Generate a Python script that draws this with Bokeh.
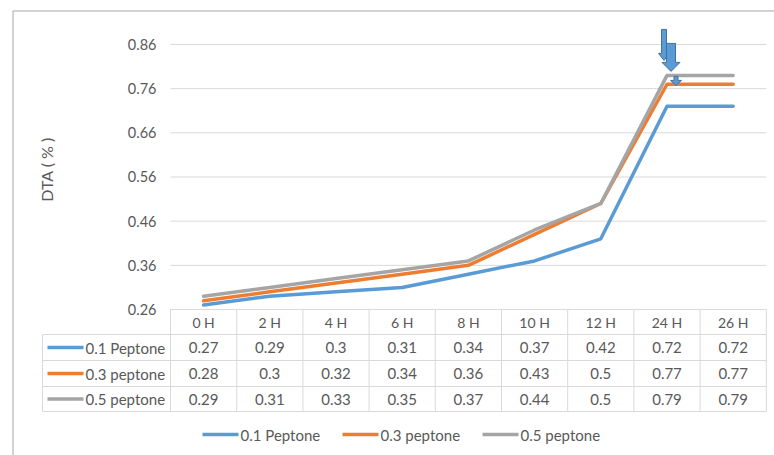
import numpy as np
from bokeh.plotting import figure
from bokeh.models import Range1d
from bokeh.core.properties import value
from bokeh.embed import file_html
from bokeh.resources import INLINE

# ---------------- data ----------------
categories = ["0 H", "2 H", "4 H", "6 H", "8 H", "10 H", "12 H", "24 H", "26 H"]
pep_01 = [0.27, 0.29, 0.30, 0.31, 0.34, 0.37, 0.42, 0.72, 0.72]
pep_03 = [0.28, 0.30, 0.32, 0.34, 0.36, 0.43, 0.50, 0.77, 0.77]
pep_05 = [0.29, 0.31, 0.33, 0.35, 0.37, 0.44, 0.50, 0.79, 0.79]
series_names = ["0.1 Peptone", "0.3 peptone", "0.5 peptone"]
y_ticks = [0.26, 0.36, 0.46, 0.56, 0.66, 0.76, 0.86]
y_title = "DTA ( % )"

# ---------------- layout ----------------
W, H = 774, 455
COL0, COLW = 170.0, 66.2          # left edge of table columns, column width (px)
Y0PX, PXU = 309.0, 441.7          # pixel row of lowest tick, pixels per unit
FONT = value("Lato")
TXT = "#595959"
GRID = "#d9d9d9"
colors = ["#5B9BD5", "#ED7D31", "#A5A5A5"]
series = [pep_01, pep_03, pep_05]


def X(px):
    return (px - (COL0 + COLW / 2)) / COLW


def Y(py):
    return y_ticks[0] + (Y0PX - py) / PXU


def PY(v):
    return Y0PX - (v - y_ticks[0]) * PXU


p = figure(width=W, height=H, output_backend="svg", toolbar_location=None,
           x_range=Range1d(X(0), X(W)), y_range=Range1d(Y(H), Y(0)),
           min_border=0)
p.axis.visible = False
p.grid.visible = False
p.outline_line_color = None
p.background_fill_color = "white"
p.border_fill_color = "white"

n = len(categories)
xs = list(range(n))

# outer chart border (left & top)
p.line([X(12.5), X(12.5)], [Y(10.5), Y(H)], line_color="#a6a6a6", line_width=1)
p.line([X(12.5), X(W)], [Y(10.5), Y(10.5)], line_color="#a6a6a6", line_width=1)

# horizontal gridlines
right_px = COL0 + COLW * n
p.segment(x0=[X(COL0)] * len(y_ticks), x1=[X(right_px)] * len(y_ticks),
          y0=y_ticks, y1=y_ticks, line_color=GRID, line_width=1)

# y tick labels
p.text(x=[X(156)] * len(y_ticks), y=y_ticks, text=[f"{t:.2f}" for t in y_ticks],
       text_font=FONT, text_font_size="14.5px", text_color=TXT,
       text_align="right", text_baseline="middle")

# y title
p.text(x=[X(46)], y=[Y(169)], text=[y_title], angle=np.pi / 2,
       text_font=FONT, text_font_size="16px", text_color=TXT,
       text_align="center", text_baseline="middle")

# ---------------- data table ----------------
hdr_top, hdr_bot = Y0PX, 334.0
row_edges = [334.0, 360.0, 386.0, 411.0]
label_left = 42.0
for e in row_edges:
    p.line([X(label_left), X(right_px)], [Y(e), Y(e)], line_color=GRID, line_width=1)
for k in range(n + 1):
    xp = COL0 + COLW * k
    p.line([X(xp), X(xp)], [Y(hdr_top), Y(row_edges[-1])], line_color=GRID, line_width=1)
p.line([X(label_left), X(label_left)], [Y(row_edges[0]), Y(row_edges[-1])],
       line_color=GRID, line_width=1)

# header
p.text(x=xs, y=[Y((hdr_top + hdr_bot) / 2)] * n, text=categories,
       text_font=FONT, text_font_size="14px", text_color=TXT,
       text_align="center", text_baseline="middle")

for r, (vals, name, c) in enumerate(zip(series, series_names, colors)):
    cy = Y((row_edges[r] + row_edges[r + 1]) / 2)
    p.text(x=xs, y=[cy] * n, text=[f"{v:g}" for v in vals],
           text_font=FONT, text_font_size="15px", text_color=TXT,
           text_align="center", text_baseline="middle")
    p.line([X(47), X(83)], [cy, cy], line_color=c, line_width=3.5)
    p.text(x=[X(85)], y=[cy], text=[name],
           text_font=FONT, text_font_size="15px", text_color=TXT,
           text_align="left", text_baseline="middle")

# bottom legend
leg_y = Y(434)
for k, (name, c) in enumerate(zip(series_names, colors)):
    x0 = 202 + 140 * k
    p.line([X(x0), X(x0 + 36)], [leg_y, leg_y], line_color=c, line_width=3.5)
    p.text(x=[X(x0 + 38)], y=[leg_y], text=[name],
           text_font=FONT, text_font_size="15px", text_color=TXT,
           text_align="left", text_baseline="middle")

# ---------------- series lines ----------------
for vals, c in zip(series, colors):
    p.line(xs, vals, line_color=c, line_width=3.5, line_join="round", line_cap="round")

# ---------------- decorative arrows near 24 H ----------------
anchor_px = COL0 + COLW * 7.5
anchor_py = PY(pep_05[7])


def block_arrow(cx, top, tip, shaft_w, head_w, head_h):
    pts = [(cx - shaft_w / 2, top), (cx + shaft_w / 2, top),
           (cx + shaft_w / 2, tip - head_h), (cx + head_w / 2, tip - head_h),
           (cx, tip), (cx - head_w / 2, tip - head_h), (cx - shaft_w / 2, tip - head_h)]
    return [X(a) for a, b in pts], [Y(b) for a, b in pts]


arrows = [
    block_arrow(anchor_px - 3, anchor_py - 46, anchor_py - 15, 5, 11, 7),
    block_arrow(anchor_px + 4, anchor_py - 32, anchor_py - 4, 9, 18, 9),
    block_arrow(anchor_px + 9, anchor_py + 1, anchor_py + 10, 4, 11, 5),
]
p.patches([a[0] for a in arrows], [a[1] for a in arrows],
          fill_color="#5B9BD5", line_color="#41719C", line_width=1)

open("out.html", "w").write(file_html(p, INLINE))
